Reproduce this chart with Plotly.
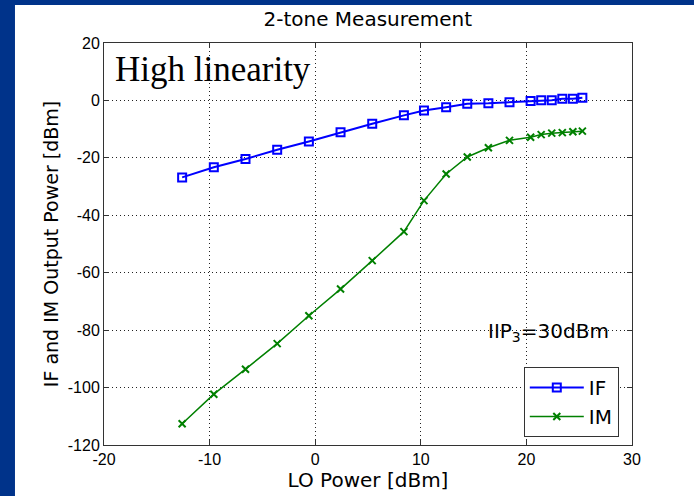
import plotly.graph_objects as go

lo_power = [-12.6, -9.6, -6.6, -3.6, -0.6, 2.4, 5.4, 8.4, 10.3, 12.4, 14.4, 16.4, 18.4, 20.4, 21.4, 22.4, 23.4, 24.4, 25.3]
if_power = [-26.8, -23.3, -20.4, -17.2, -14.3, -11.1, -8.1, -5.2, -3.5, -2.4, -1.2, -1.0, -0.6, -0.2, 0.1, 0.1, 0.6, 0.6, 0.9]
im_power = [-112.6, -102.3, -93.6, -84.7, -75.0, -65.7, -55.8, -45.7, -34.9, -25.6, -19.7, -16.5, -13.9, -12.8, -11.9, -11.4, -11.2, -10.9, -10.7]

x_ticks = [-20, -10, 0, 10, 20, 30]
y_ticks = [20, 0, -20, -40, -60, -80, -100, -120]

title_text = "2-tone Measurement"
x_label = "LO Power [dBm]"
y_label = "IF and IM Output Power [dBm]"
note_text = "High linearity"
iip_text = "IIP<sub>3</sub>=30dBm"

SANS = "DejaVu Sans, Liberation Sans, Arial, sans-serif"
TICKF = "Liberation Sans, Arial, sans-serif"

fig = go.Figure()
fig.add_trace(go.Scatter(
    x=lo_power, y=if_power, name="IF", mode="lines+markers",
    line=dict(color="#0000FF", width=2),
    marker=dict(symbol="square-open", size=8, color="#0000FF", line=dict(width=2, color="#0000FF")),
))
fig.add_trace(go.Scatter(
    x=lo_power, y=im_power, name="IM", mode="lines+markers",
    line=dict(color="#008000", width=1.5),
    marker=dict(symbol="x-thin-open", size=7, color="#008000", line=dict(width=2, color="#008000")),
))

axis_common = dict(
    showline=True, linecolor="#333333", linewidth=1, mirror="ticks",
    ticks="inside", ticklen=5, tickcolor="#333333",
    showgrid=True, gridcolor="#222222", griddash="1px,3px", gridwidth=1,
    zeroline=False, automargin=False,
    tickfont=dict(family=TICKF, size=16, color="black"),
)

fig.update_xaxes(range=[-20, 30], tickvals=x_ticks, ticktext=[str(v) for v in x_ticks],
                 title=dict(text=x_label, font=dict(family=SANS, size=20, color="black"), standoff=2),
                 **axis_common)
fig.update_yaxes(range=[-120, 20], tickvals=y_ticks, ticktext=[str(v) for v in y_ticks],
                 title=dict(text=y_label, font=dict(family=SANS, size=19, color="black"), standoff=4),
                 **axis_common)

fig.add_annotation(x=0.017, xref="paper", y=10.8, yref="y", text=note_text, showarrow=False,
                   xanchor="left", yanchor="middle",
                   font=dict(family="Liberation Serif, Times New Roman, serif", size=35, color="black"))
fig.add_annotation(x=0.96, xref="paper", y=-80.5, yref="y", text=iip_text, showarrow=False,
                   xanchor="right", yanchor="middle",
                   font=dict(family=SANS, size=20, color="black"))

fig.add_shape(type="rect", xref="paper", yref="paper", x0=-0.1686, x1=1.3, y0=-0.3, y1=1.0945,
              fillcolor="white", line=dict(width=0), layer="below")

fig.update_layout(
    width=694, height=496,
    margin=dict(l=104, r=62, t=43, b=51, autoexpand=False),
    paper_bgcolor="#00338a", plot_bgcolor="white",
    title=dict(text=title_text, x=0.53, xanchor="center", y=0.962, yanchor="middle",
               font=dict(family=SANS, size=20, color="black")),
    legend=dict(x=0.975, y=0.02, xanchor="right", yanchor="bottom",
                bgcolor="white", bordercolor="#333333", borderwidth=1,
                itemwidth=54,
                font=dict(family=SANS, size=20, color="black")),
    showlegend=True,
)

fig.write_html("out.html", config={"displayModeBar": False},
               post_script="document.body.style.margin='0';document.body.style.padding='0';")
